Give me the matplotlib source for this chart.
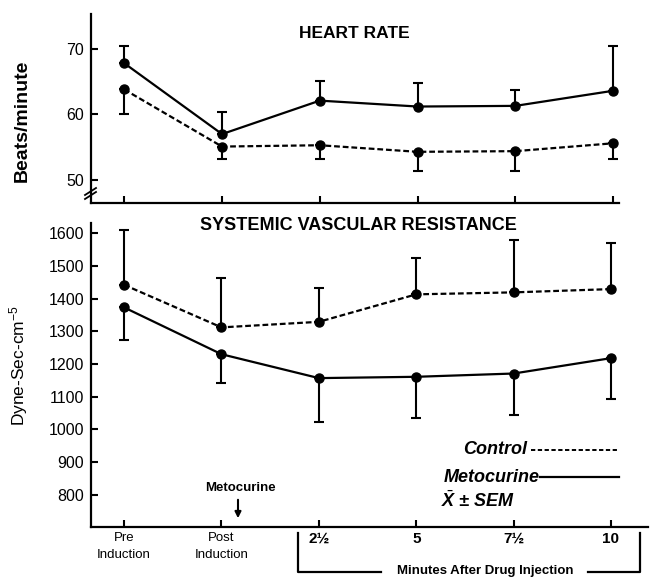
import numpy as np
import matplotlib
matplotlib.use('Agg')
import matplotlib.pyplot as plt
from matplotlib.lines import Line2D

plt.rcParams['font.family'] = ['Liberation Sans', 'DejaVu Sans']
plt.rcParams['mathtext.fontset'] = 'custom'
plt.rcParams['mathtext.it'] = 'Liberation Sans:italic:bold'
plt.rcParams['mathtext.rm'] = 'Liberation Sans'

# categories (evenly spaced on the axis)
x_labels = ['Pre\nInduction', 'Post\nInduction', '2½', '5', '7½', '10']
xs = np.arange(len(x_labels))

# heart rate, beats/minute
hr_meto = [67.8, 57.0, 62.1, 61.2, 61.3, 63.6]
hr_meto_sem = [2.6, 3.4, 3.0, 3.6, 2.4, 6.9]      # drawn upward
hr_ctrl = [63.8, 55.1, 55.3, 54.3, 54.4, 55.6]
hr_ctrl_sem = [3.8, 1.9, 2.1, 2.9, 3.0, 2.4]      # drawn downward

# systemic vascular resistance, dyne-sec-cm-5
svr_ctrl = [1442, 1312, 1329, 1413, 1419, 1429]
svr_ctrl_sem = [168, 151, 103, 111, 161, 141]     # upward
svr_meto = [1373, 1230, 1157, 1161, 1171, 1218]
svr_meto_sem = [100, 88, 133, 125, 128, 125]      # downward

W, H = 650, 577


def fx(px):
    return px / W


def fy(py):
    return 1 - py / H


fig = plt.figure(figsize=(6.5, 5.77), dpi=100)

lw = 1.6
dash = (2.6, 1.3)
ms = 6.5
cap = 3.3


def style_axes(ax):
    for s in ['top', 'right']:
        ax.spines[s].set_visible(False)
    for s in ['left', 'bottom']:
        ax.spines[s].set_linewidth(1.6)
    ax.tick_params(direction='in', length=5, width=1.5, labelsize=11.5, pad=5)


def draw(ax, y, err, solid, up):
    yerr = [np.zeros(len(err)), err] if up else [err, np.zeros(len(err))]
    ax.errorbar(xs, y, yerr=yerr, fmt='none', ecolor='black', elinewidth=1.5,
                capsize=cap, capthick=1.5, zorder=2)
    line, = ax.plot(xs, y, color='black', lw=lw, marker='o', ms=ms, zorder=3)
    if not solid:
        line.set_dashes(dash)


# top panel: heart rate
ax1 = fig.add_axes([fx(91), fy(203), fx(619) - fx(91), fy(14) - fy(203)])
style_axes(ax1)
draw(ax1, hr_meto, hr_meto_sem, True, True)
draw(ax1, hr_ctrl, hr_ctrl_sem, False, False)
ax1.set_xlim(-0.34, 5.06)
ax1.set_ylim(46.5, 75.3)
ax1.set_yticks([50, 60, 70])
ax1.set_xticks(xs)
ax1.set_xticklabels([])
ax1.set_ylabel('Beats/minute', fontsize=14, fontweight='bold')
ax1.yaxis.set_label_coords(-0.115, 0.434)
fig.text(fx(354), fy(33), 'HEART RATE', ha='center', va='center',
         fontsize=12.5, fontweight='bold')

# axis break marks
for dy in (0, 4):
    fig.add_artist(Line2D([fx(85), fx(96)], [fy(199 - dy), fy(192 - dy)],
                          color='black', lw=1.3))

# bottom panel: SVR
ax2 = fig.add_axes([fx(91), fy(527), fx(648) - fx(91), fy(223) - fy(527)])
style_axes(ax2)
draw(ax2, svr_ctrl, svr_ctrl_sem, False, True)
draw(ax2, svr_meto, svr_meto_sem, True, False)
ax2.set_xlim(-0.34, 5.38)
ax2.set_ylim(702, 1631)
ax2.set_yticks(np.arange(800, 1601, 100))
ax2.set_xticks(xs)
ax2.set_xticklabels(x_labels)
ax2.tick_params(axis='x', pad=3.5)
for i, t in enumerate(ax2.get_xticklabels()):
    if i < 2:
        t.set_fontsize(9.5)
        t.set_linespacing(1.55)
    else:
        t.set_fontsize(11)
        t.set_fontweight('bold')
ax2.set_ylabel('Dyne-Sec-cm$^{-5}$', fontsize=12.5)
ax2.yaxis.set_label_coords(-0.11, 0.53)
fig.text(fx(358), fy(225), 'SYSTEMIC VASCULAR RESISTANCE', ha='center',
         va='center', fontsize=13, fontweight='bold')

# drug marker
fig.text(fx(240), fy(488), 'Metocurine', ha='center', va='center',
         fontsize=9.5, fontweight='bold')
ax2.annotate('', xy=(fx(238), fy(521)), xytext=(fx(238), fy(497)),
             xycoords='figure fraction', textcoords='figure fraction',
             arrowprops=dict(arrowstyle='-|>', lw=1.5, color='black',
                             mutation_scale=9))

# legend
fig.text(fx(527), fy(450), 'Control', ha='right', va='center', fontsize=13,
         fontweight='bold', fontstyle='italic')
fig.add_artist(Line2D([fx(531), fx(619)], [fy(450), fy(450)], color='black',
                      lw=1.4, dashes=(2.2, 1.3)))
fig.text(fx(540), fy(477), 'Metocurine', ha='right', va='center', fontsize=13,
         fontweight='bold', fontstyle='italic')
fig.add_artist(Line2D([fx(540), fx(619)], [fy(477), fy(477)], color='black',
                      lw=1.6))
fig.text(fx(441), fy(501), r'$\bar{X}$ ± SEM', ha='left', va='center',
         fontsize=13, fontweight='bold', fontstyle='italic')

# bracket under the post-drug times
br = dict(color='black', lw=1.6)
fig.add_artist(Line2D([fx(298), fx(298), fx(381)], [fy(533), fy(572), fy(572)], **br))
fig.add_artist(Line2D([fx(588), fx(640), fx(640)], [fy(572), fy(572), fy(533)], **br))
fig.text(fx(485), fy(571), 'Minutes After Drug Injection', ha='center',
         va='center', fontsize=9.5, fontweight='bold')

plt.savefig('out.png', dpi=100)
